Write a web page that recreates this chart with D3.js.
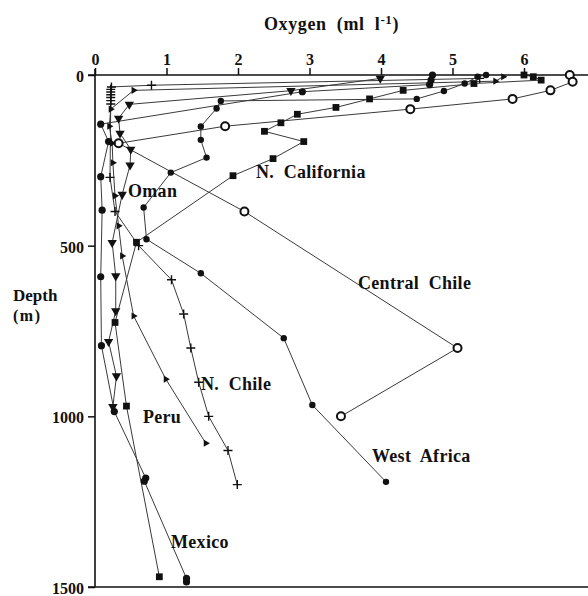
<!DOCTYPE html>
<html>
<head>
<meta charset="utf-8">
<script src="https://cdn.jsdelivr.net/npm/d3@7"></script>
<style>
  html, body { margin: 0; padding: 0; background: #fff; }
  svg { display: block; }
  text { font-family: "Liberation Serif", "DejaVu Serif", serif; font-weight: bold; fill: #111; white-space: pre; }
</style>
</head>
<body>
<svg id="chart" width="588" height="596"></svg>
<script>
// ---------- data (depth in m, oxygen in ml/l) ----------
const xTicks = [0, 1, 2, 3, 4, 5, 6];
const yTicks = [0, 500, 1000, 1500];

const centralChileDepth = [0, 20, 45, 70, 100, 150, 200, 400, 800, 1000];
const centralChileO2    = [6.64, 6.68, 6.37, 5.84, 4.41, 1.82, 0.33, 2.09, 5.07, 3.44];

const nCaliforniaDepth = [0, 5, 15, 25, 45, 70, 95, 115, 140, 165, 195, 245, 295, 490, 725, 970, 1470];
const nCaliforniaO2    = [6.0, 6.13, 6.24, 5.3, 4.31, 3.84, 3.37, 2.83, 2.6, 2.37, 2.92, 2.49, 1.93, 0.58, 0.28, 0.44, 0.90];

const nChileDepth = [10, 30, 35, 42, 50, 58, 66, 75, 85, 300, 400, 500, 600, 700, 800, 900, 1000, 1100, 1200];
const nChileO2    = [5.38, 0.79, 0.23, 0.22, 0.22, 0.22, 0.22, 0.22, 0.22, 0.21, 0.28, 0.61, 1.07, 1.24, 1.34, 1.45, 1.59, 1.86, 1.99];

const peruDepth = [10, 46, 86, 127, 171, 218, 264, 350, 491, 589, 691, 781, 882, 972];
const peruO2    = [3.99, 2.74, 0.48, 0.33, 0.35, 0.5, 0.49, 0.38, 0.24, 0.29, 0.29, 0.19, 0.30, 0.25];

const omanDepth = [5, 18, 45, 100, 150, 200, 257, 354, 442, 530, 706, 891, 1079];
const omanO2    = [5.71, 5.6, 0.54, 0.22, 0.2, 0.24, 0.25, 0.28, 0.33, 0.38, 0.54, 0.99, 1.55];

const westAfricaDepth = [0, 5, 25, 47, 70, 76, 98, 151, 190, 242, 286, 388, 481, 581, 771, 967, 1192];
const westAfricaO2    = [5.47, 5.35, 5.17, 4.88, 4.5, 1.76, 1.70, 1.48, 1.48, 1.56, 1.06, 0.68, 0.72, 1.48, 2.64, 3.04, 4.07];

const mexicoDepth = [0, 15, 28, 49, 144, 195, 298, 396, 591, 793, 986, 1181, 1190, 1475, 1485];
const mexicoO2    = [4.72, 4.70, 4.68, 2.9, 0.08, 0.19, 0.08, 0.10, 0.08, 0.09, 0.27, 0.71, 0.69, 1.28, 1.28];

const regionNames = ["Oman", "N.  California", "Central  Chile", "West  Africa", "N.  Chile", "Peru", "Mexico"];

// ---------- chart ----------
const svg = d3.select("#chart");
const x = d3.scaleLinear().domain([0, 6.9]).range([95, 588.35]);
const y = d3.scaleLinear().domain([0, 1500]).range([75, 587]);

const series = [
  { name: "Central Chile", depth: centralChileDepth, o2: centralChileO2, marker: "ocircle" },
  { name: "N. California", depth: nCaliforniaDepth, o2: nCaliforniaO2, marker: "square" },
  { name: "N. Chile", depth: nChileDepth, o2: nChileO2, marker: "plus" },
  { name: "Peru", depth: peruDepth, o2: peruO2, marker: "dtri" },
  { name: "Oman", depth: omanDepth, o2: omanO2, marker: "rtri" },
  { name: "West Africa", depth: westAfricaDepth, o2: westAfricaO2, marker: "dot" },
  { name: "Mexico", depth: mexicoDepth, o2: mexicoO2, marker: "bigdot" }
];

const line = d3.line().x(d => x(d[1])).y(d => y(d[0]));

// lines
series.forEach(s => {
  const pts = s.depth.map((d, i) => [d, s.o2[i]]);
  svg.append("path").datum(pts)
    .attr("d", line)
    .attr("fill", "none")
    .attr("stroke", "#3a3a3a")
    .attr("stroke-width", 1);
});

// axes
const axisG = svg.append("g");
const xAxis = d3.axisTop(x).tickValues(xTicks).tickSize(7).tickPadding(3).tickFormat(d3.format("d"));
const gx = axisG.append("g").attr("transform", `translate(0,${y(0)})`).call(xAxis);
gx.select(".domain").remove();
gx.selectAll(".tick line").attr("stroke", "#111").attr("stroke-width", 1.5);
gx.selectAll(".tick text").attr("font-size", 16).attr("fill", "#111")
  .style("font-family", '"Liberation Serif", serif').style("font-weight", "bold");

const yAxis = d3.axisLeft(y).tickValues(yTicks).tickSize(7).tickPadding(4).tickFormat(d3.format("d"));
const gy = axisG.append("g").attr("transform", `translate(${x(0)},0)`).call(yAxis);
gy.select(".domain").remove();
gy.selectAll(".tick line").attr("stroke", "#111").attr("stroke-width", 1.5);
gy.selectAll(".tick text").attr("font-size", 16).attr("fill", "#111").attr("dy", "0.4em")
  .style("font-family", '"Liberation Serif", serif').style("font-weight", "bold");

axisG.append("line").attr("x1", x(0) - 7).attr("x2", x.range()[1]).attr("y1", y(0)).attr("y2", y(0))
  .attr("stroke", "#111").attr("stroke-width", 1.6);
axisG.append("line").attr("x1", x(0)).attr("x2", x(0)).attr("y1", y(0) - 6).attr("y2", y(1500))
  .attr("stroke", "#111").attr("stroke-width", 1.6);
axisG.append("line").attr("x1", x(0) - 7).attr("x2", x.range()[1]).attr("y1", y(1500)).attr("y2", y(1500))
  .attr("stroke", "#111").attr("stroke-width", 1.6);

// markers
const symSquare = d3.symbol().type(d3.symbolSquare).size(46);
const symTri = d3.symbol().type(d3.symbolTriangle).size(38);
const symRTri = d3.symbol().type(d3.symbolTriangle).size(22);

series.forEach(s => {
  const pts = s.depth.map((d, i) => [d, s.o2[i]]);
  const g = svg.append("g");
  pts.forEach(p => {
    const cx = x(p[1]), cy = y(p[0]);
    if (s.marker === "ocircle") {
      g.append("circle").attr("cx", cx).attr("cy", cy).attr("r", 4)
        .attr("fill", "#fff").attr("stroke", "#111").attr("stroke-width", 2);
    } else if (s.marker === "square") {
      g.append("path").attr("d", symSquare()).attr("transform", `translate(${cx},${cy})`).attr("fill", "#111");
    } else if (s.marker === "dtri") {
      g.append("path").attr("d", symTri()).attr("transform", `translate(${cx},${cy}) rotate(180)`).attr("fill", "#111");
    } else if (s.marker === "rtri") {
      g.append("path").attr("d", symRTri()).attr("transform", `translate(${cx},${cy}) rotate(90)`).attr("fill", "#111");
    } else if (s.marker === "dot") {
      g.append("circle").attr("cx", cx).attr("cy", cy).attr("r", 3.2).attr("fill", "#111");
    } else if (s.marker === "bigdot") {
      g.append("circle").attr("cx", cx).attr("cy", cy).attr("r", 3.6).attr("fill", "#111");
    } else if (s.marker === "plus") {
      g.append("path").attr("d", `M${cx - 4.5},${cy}H${cx + 4.5}M${cx},${cy - 4.5}V${cy + 4.5}`)
        .attr("stroke", "#111").attr("stroke-width", 1.4).attr("fill", "none");
    }
  });
});

// axis titles
const title = svg.append("text").attr("x", 264).attr("y", 30).attr("font-size", 18).attr("letter-spacing", "0.6px");
title.append("tspan").text("Oxygen  (ml  l");
title.append("tspan").attr("dy", -6).attr("font-size", 13).text("-1");
title.append("tspan").attr("dy", 6).text(")");

svg.append("text").attr("x", 13).attr("y", 301).attr("font-size", 17).text("Depth");
svg.append("text").attr("x", 13).attr("y", 321).attr("font-size", 16).attr("letter-spacing", "1.5px").text("(m)");

// region labels
const labelPos = {
  "Oman": [128, 197],
  "N.  California": [256, 178],
  "Central  Chile": [358, 289],
  "West  Africa": [372, 462],
  "N.  Chile": [201, 390],
  "Peru": [143, 423],
  "Mexico": [171, 548]
};
regionNames.forEach(n => {
  svg.append("text").attr("x", labelPos[n][0]).attr("y", labelPos[n][1])
    .attr("font-size", 18).attr("letter-spacing", "0.3px").text(n);
});
</script>
</body>
</html>
